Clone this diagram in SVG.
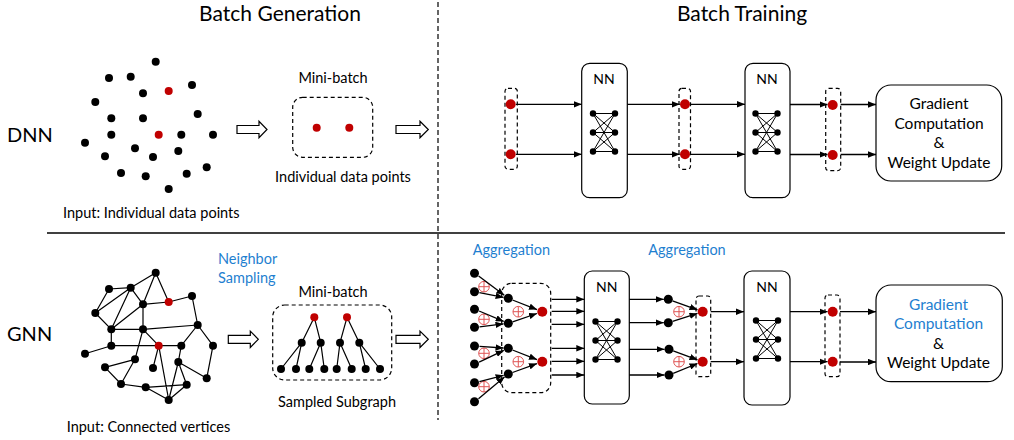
<svg xmlns="http://www.w3.org/2000/svg" width="1014" height="440" viewBox="0 0 1014 440">
<style>
text{font-family:Lato,"Liberation Sans",sans-serif;fill:#000}
.blue{fill:#1f7fd0}
.dash{fill:none;stroke:#000;stroke-width:1.2;stroke-dasharray:4 3}
.box{fill:#fff;stroke:#000;stroke-width:1.2}
.e{stroke:#000;stroke-width:1.2}
.ar{stroke:#000;stroke-width:1.3;marker-end:url(#ah)}
.k{fill:#000}
.r{fill:#c00000}
.hollow{fill:#fff;stroke:#000;stroke-width:1.2}
.div{stroke:#000;stroke-width:1.3}
.vdiv{stroke:#333;stroke-width:1.5;stroke-dasharray:5 3}
</style>
<defs>
<marker id="ah" viewBox="0 0 10 8" refX="10" refY="4" markerWidth="8" markerHeight="6.5" markerUnits="userSpaceOnUse" orient="auto"><path d="M0,0 L10,4 L0,8 z" fill="#000"/></marker>
<g id="oplus"><circle r="5.3" fill="none" stroke="#e05555" stroke-width="1"/><path d="M-5.3,0 H5.3 M0,-5.3 V5.3" stroke="#e05555" stroke-width="1"/></g>
<g id="net">
<path d="M0,0 L22,0 M0,0 L22,19 M0,0 L22,38 M0,19 L22,0 M0,19 L22,19 M0,19 L22,38 M0,38 L22,0 M0,38 L22,19 M0,38 L22,38" stroke="#000" stroke-width="1"/>
<circle cx="0" cy="0" r="3.2"/><circle cx="0" cy="19" r="3.2"/><circle cx="0" cy="38" r="3.2"/>
<circle cx="22" cy="0" r="3.2"/><circle cx="22" cy="19" r="3.2"/><circle cx="22" cy="38" r="3.2"/>
</g>
</defs>

<!-- titles and dividers -->
<g id="titles">
<text x="280" y="21" font-size="21" text-anchor="middle">Batch Generation</text>
<text x="742" y="21" font-size="21" text-anchor="middle">Batch Training</text>
<text x="7" y="142.3" font-size="20">DNN</text>
<text x="7" y="340.7" font-size="20">GNN</text>
</g>
<g id="dividers">
<line x1="47" y1="233" x2="1005" y2="233" class="div"/>
<line x1="438" y1="2" x2="438" y2="420" class="vdiv"/>
</g>

<!-- DNN input scatter -->
<g id="dnn-input">
<g transform="translate(0,-211)" class="k">
<circle cx="155.7" cy="272.7" r="4"/><circle cx="109" cy="289" r="4"/><circle cx="130.7" cy="287.7" r="4"/>
<circle cx="168.7" cy="302" r="4" class="r"/><circle cx="192" cy="296" r="4"/><circle cx="143" cy="304.3" r="4"/>
<circle cx="95.3" cy="313" r="4"/><circle cx="111.3" cy="329.3" r="4"/><circle cx="143" cy="329.3" r="4"/>
<circle cx="197.7" cy="325" r="4"/><circle cx="111.3" cy="345.7" r="4"/><circle cx="158.7" cy="345.7" r="4" class="r"/>
<circle cx="181.3" cy="345.7" r="4"/><circle cx="213" cy="345.7" r="4"/><circle cx="85" cy="353.7" r="4"/>
<circle cx="135" cy="359.3" r="4"/><circle cx="178.3" cy="362" r="4"/><circle cx="105" cy="367.3" r="4"/>
<circle cx="153" cy="368" r="4"/><circle cx="121" cy="384" r="4"/><circle cx="145.7" cy="387.3" r="4"/>
<circle cx="186.7" cy="384.7" r="4"/><circle cx="206.7" cy="378.3" r="4"/><circle cx="168.7" cy="400" r="4"/>
</g>
<text x="63" y="218" font-size="14.5">Input: Individual data points</text>
</g>

<g id="dnn-arrow1"><polygon class="hollow" points="237,125.5 259,125.5 259,121.3 267,129.5 259,137.7 259,133.5 237,133.5"/></g>

<g id="dnn-minibatch">
<text x="333" y="82.7" font-size="14.5" text-anchor="middle">Mini-batch</text>
<rect x="292.7" y="97.3" width="80" height="60" rx="10" class="dash"/>
<circle cx="316.7" cy="127.7" r="4" class="r"/><circle cx="349.3" cy="127.7" r="4" class="r"/>
<text x="343" y="181.7" font-size="14.5" text-anchor="middle">Individual data points</text>
</g>

<g id="dnn-arrow2"><polygon class="hollow" points="396,125.5 420,125.5 420,121.3 428.3,129.5 420,137.7 420,133.5 396,133.5"/></g>

<!-- DNN training -->
<g id="dnn-in">
<rect x="505" y="88.3" width="12.3" height="81" rx="3" class="dash"/>
<circle cx="510.7" cy="104.3" r="5" class="r"/><circle cx="510.7" cy="154.3" r="5" class="r"/>
</g>
<g id="dnn-nn1">
<rect x="581.7" y="63.3" width="45.6" height="134.4" rx="8" class="box"/>
<text x="604" y="84.3" font-size="14" text-anchor="middle">NN</text>
<use href="#net" transform="translate(593,113.5)"/>
</g>
<g id="dnn-mid">
<rect x="679" y="88.3" width="11.5" height="81" rx="3" class="dash"/>
<circle cx="685" cy="104.3" r="5" class="r"/><circle cx="685" cy="154.3" r="5" class="r"/>
</g>
<g id="dnn-nn2">
<rect x="745" y="63.3" width="45" height="134.4" rx="8" class="box"/>
<text x="767" y="84.3" font-size="14" text-anchor="middle">NN</text>
<use href="#net" transform="translate(755.5,113.5)"/>
</g>
<g id="dnn-out">
<rect x="825.7" y="88.3" width="15" height="82.4" rx="3" class="dash"/>
<circle cx="832.7" cy="105" r="5" class="r"/><circle cx="832.7" cy="155" r="5" class="r"/>
</g>
<g id="dnn-grad">
<rect x="876" y="85" width="125.7" height="96" rx="15" class="box"/>
<text x="939" y="109.3" font-size="15.5" text-anchor="middle">Gradient</text>
<text x="939" y="128.8" font-size="15.5" text-anchor="middle">Computation</text>
<text x="939" y="148.2" font-size="15.5" text-anchor="middle">&amp;</text>
<text x="939" y="167.5" font-size="15.5" text-anchor="middle">Weight Update</text>
</g>

<!-- GNN input graph -->
<g id="gnn-input">
<g class="e">
<path d="M155.7,272.7 L130.7,287.7 M155.7,272.7 L143,304.3 M155.7,272.7 L168.7,302 M109,289 L130.7,287.7 M109,289 L95.3,313 M130.7,287.7 L95.3,313 M130.7,287.7 L111.3,329.3 M130.7,287.7 L143,304.3 M143,304.3 L168.7,302 M143,304.3 L111.3,329.3 M143,304.3 L143,329.3 M168.7,302 L192,296 M192,296 L197.7,325 M95.3,313 L111.3,329.3 M111.3,329.3 L143,329.3 M111.3,329.3 L111.3,345.7 M143,329.3 L197.7,325 M143,329.3 L158.7,345.7 M143,329.3 L135,359.3 M111.3,345.7 L85,353.7 M111.3,345.7 L158.7,345.7 M158.7,345.7 L181.3,345.7 M158.7,345.7 L153,368 M158.7,345.7 L168.7,400 M181.3,345.7 L197.7,325 M181.3,345.7 L178.3,362 M197.7,325 L213,345.7 M213,345.7 L206.7,378.3 M178.3,362 L206.7,378.3 M178.3,362 L186.7,384.7 M178.3,362 L168.7,400 M135,359.3 L105,367.3 M135,359.3 L121,384 M105,367.3 L121,384 M121,384 L145.7,387.3 M145.7,387.3 L168.7,400 M168.7,400 L186.7,384.7 M145.7,387.3 L186.7,384.7" fill="none"/>
</g>
<g class="k">
<circle cx="155.7" cy="272.7" r="4"/><circle cx="109" cy="289" r="4"/><circle cx="130.7" cy="287.7" r="4"/>
<circle cx="168.7" cy="302" r="4" class="r"/><circle cx="192" cy="296" r="4"/><circle cx="143" cy="304.3" r="4"/>
<circle cx="95.3" cy="313" r="4"/><circle cx="111.3" cy="329.3" r="4"/><circle cx="143" cy="329.3" r="4"/>
<circle cx="197.7" cy="325" r="4"/><circle cx="111.3" cy="345.7" r="4"/><circle cx="158.7" cy="345.7" r="4" class="r"/>
<circle cx="181.3" cy="345.7" r="4"/><circle cx="213" cy="345.7" r="4"/><circle cx="85" cy="353.7" r="4"/>
<circle cx="135" cy="359.3" r="4"/><circle cx="178.3" cy="362" r="4"/><circle cx="105" cy="367.3" r="4"/>
<circle cx="153" cy="368" r="4"/><circle cx="121" cy="384" r="4"/><circle cx="145.7" cy="387.3" r="4"/>
<circle cx="186.7" cy="384.7" r="4"/><circle cx="206.7" cy="378.3" r="4"/><circle cx="168.7" cy="400" r="4"/>
</g>
<text x="66.7" y="431.7" font-size="14.5">Input: Connected vertices</text>
</g>

<g id="gnn-sampling-label">
<text x="218" y="264" font-size="14.5" class="blue">Neighbor</text>
<text x="218" y="283.3" font-size="14.5" class="blue">Sampling</text>
</g>

<g id="gnn-arrow1"><polygon class="hollow" points="228.3,335.3 250.3,335.3 250.3,331.1 258.3,339.3 250.3,347.5 250.3,343.3 228.3,343.3"/></g>

<g id="gnn-minibatch">
<text x="333" y="296.7" font-size="14.5" text-anchor="middle">Mini-batch</text>
<rect x="272.7" y="305" width="119" height="75" rx="12" class="dash"/>
<path class="e" fill="none" d="M314.3,317.3 L301.7,342.7 M314.3,317.3 L320.7,342.7 M347,317.3 L340,342.7 M347,317.3 L359.3,342.7 M301.7,342.7 L281,369 M301.7,342.7 L296,369 M320.7,342.7 L309.3,369 M320.7,342.7 L324.3,369 M340,342.7 L336.7,369 M340,342.7 L351.7,369 M359.3,342.7 L365.7,369 M359.3,342.7 L380,369"/>
<circle cx="314.3" cy="317.3" r="4" class="r"/><circle cx="347" cy="317.3" r="4" class="r"/>
<g class="k">
<circle cx="301.7" cy="342.7" r="4"/><circle cx="320.7" cy="342.7" r="4"/><circle cx="340" cy="342.7" r="4"/><circle cx="359.3" cy="342.7" r="4"/>
<circle cx="281" cy="369" r="4"/><circle cx="296" cy="369" r="4"/><circle cx="309.3" cy="369" r="4"/><circle cx="324.3" cy="369" r="4"/>
<circle cx="336.7" cy="369" r="4"/><circle cx="351.7" cy="369" r="4"/><circle cx="365.7" cy="369" r="4"/><circle cx="380" cy="369" r="4"/>
</g>
<text x="337" y="406.7" font-size="14.5" text-anchor="middle">Sampled Subgraph</text>
</g>

<g id="gnn-arrow2"><polygon class="hollow" points="396,335.3 420,335.3 420,331.1 428.3,339.3 420,347.5 420,343.3 396,343.3"/></g>

<!-- GNN training -->
<g id="gnn-agg1">
<text x="472.7" y="255" font-size="14.5" class="blue">Aggregation</text>
<g class="k">
<circle cx="474.5" cy="273.3" r="4.5"/><circle cx="474.5" cy="291.7" r="4.5"/><circle cx="474.5" cy="309.3" r="4.5"/><circle cx="474.5" cy="327.3" r="4.5"/>
<circle cx="474.5" cy="346" r="4.5"/><circle cx="474.5" cy="364" r="4.5"/><circle cx="474.5" cy="382.7" r="4.5"/><circle cx="474.5" cy="401.7" r="4.5"/>
</g>
<use href="#oplus" x="484" y="286.7"/><use href="#oplus" x="484" y="319.3"/><use href="#oplus" x="484" y="353.3"/><use href="#oplus" x="484" y="386.7"/>
<rect x="501.7" y="283.3" width="49" height="109.4" rx="10" class="dash"/>
<g class="k">
<circle cx="508.3" cy="298.3" r="4.5"/><circle cx="508.3" cy="323.3" r="4.5"/><circle cx="508.3" cy="348.3" r="4.5"/><circle cx="508.3" cy="374" r="4.5"/>
</g>
<use href="#oplus" x="518.3" y="311.7"/><use href="#oplus" x="518.3" y="361.7"/>
<circle cx="542.3" cy="311.7" r="5" class="r"/><circle cx="542.3" cy="361.7" r="5" class="r"/>
</g>
<g id="gnn-nn1">
<rect x="584.3" y="271" width="45" height="133" rx="8" class="box"/>
<text x="606.8" y="291.7" font-size="14" text-anchor="middle">NN</text>
<use href="#net" transform="translate(595.5,321.5)"/>
</g>
<g id="gnn-agg2">
<text x="648.3" y="255" font-size="14.5" class="blue">Aggregation</text>
<g class="k">
<circle cx="668.3" cy="299.3" r="4.5"/><circle cx="668.3" cy="322.7" r="4.5"/><circle cx="669" cy="349.3" r="4.5"/><circle cx="669" cy="375" r="4.5"/>
</g>
<use href="#oplus" x="679" y="311.7"/><use href="#oplus" x="679" y="361.7"/>
<rect x="696" y="296" width="14.7" height="80.7" rx="3" class="dash"/>
<circle cx="702.7" cy="311.7" r="5" class="r"/><circle cx="702.7" cy="361.7" r="5" class="r"/>
</g>
<g id="gnn-nn2">
<rect x="744" y="271" width="46" height="134" rx="8" class="box"/>
<text x="767" y="292.3" font-size="14" text-anchor="middle">NN</text>
<use href="#net" transform="translate(756,320.5)"/>
</g>
<g id="gnn-out">
<rect x="825" y="295" width="15" height="81.7" rx="3" class="dash"/>
<circle cx="832.7" cy="311.7" r="5" class="r"/><circle cx="832.7" cy="361.7" r="5" class="r"/>
</g>
<g id="gnn-grad">
<rect x="876" y="285" width="126.3" height="96.7" rx="15" class="box"/>
<text x="938.5" y="310" font-size="15.5" text-anchor="middle" class="blue">Gradient</text>
<text x="938.5" y="329.3" font-size="15.5" text-anchor="middle" class="blue">Computation</text>
<text x="938.5" y="348.5" font-size="15.5" text-anchor="middle">&amp;</text>
<text x="938.5" y="368" font-size="15.5" text-anchor="middle">Weight Update</text>
</g>

<!-- connectors -->
<g id="connectors" fill="none">
<line x1="516" y1="104.3" x2="581.7" y2="104.3" class="ar"/>
<line x1="516" y1="154.3" x2="581.7" y2="154.3" class="ar"/>
<line x1="627.3" y1="104.3" x2="679.8" y2="104.3" class="ar"/>
<line x1="627.3" y1="154.3" x2="679.8" y2="154.3" class="ar"/>
<line x1="690.5" y1="104.3" x2="745" y2="104.3" class="ar"/>
<line x1="690.5" y1="154.3" x2="745" y2="154.3" class="ar"/>
<line x1="790" y1="104.5" x2="827.5" y2="104.5" class="ar"/>
<line x1="790" y1="154.5" x2="827.5" y2="154.5" class="ar"/>
<line x1="840.7" y1="104.5" x2="876" y2="104.5" class="ar"/>
<line x1="840.7" y1="154.5" x2="876" y2="154.5" class="ar"/>

<line x1="478.6" y1="276" x2="504.3" y2="295.3" class="ar"/>
<line x1="479.4" y1="292.6" x2="503.6" y2="297.4" class="ar"/>
<line x1="479.1" y1="311" x2="503.7" y2="321.4" class="ar"/>
<line x1="479.5" y1="326.8" x2="503.5" y2="323.9" class="ar"/>
<line x1="479.5" y1="346.3" x2="503.5" y2="348" class="ar"/>
<line x1="479.1" y1="362.1" x2="503.8" y2="350.4" class="ar"/>
<line x1="479.4" y1="381.6" x2="503.6" y2="375.3" class="ar"/>
<line x1="478.5" y1="398.8" x2="504.5" y2="377" class="ar"/>
<line x1="512.5" y1="300" x2="537" y2="309.6" class="ar"/>
<line x1="512.6" y1="321.8" x2="537" y2="313.5" class="ar"/>
<line x1="512.5" y1="350" x2="537" y2="359.6" class="ar"/>
<line x1="512.5" y1="372.5" x2="537" y2="363.6" class="ar"/>

<line x1="551.7" y1="299.3" x2="584.3" y2="299.3" class="ar"/>
<line x1="551.7" y1="311.3" x2="584.3" y2="311.3" class="ar"/>
<line x1="551.7" y1="324.3" x2="584.3" y2="324.3" class="ar"/>
<line x1="551.7" y1="348.3" x2="584.3" y2="348.3" class="ar"/>
<line x1="551.7" y1="361.3" x2="584.3" y2="361.3" class="ar"/>
<line x1="551.7" y1="375" x2="584.3" y2="375" class="ar"/>

<line x1="629.3" y1="299.3" x2="663.8" y2="299.3" class="ar"/>
<line x1="629.3" y1="322.7" x2="663.8" y2="322.7" class="ar"/>
<line x1="629.3" y1="349.3" x2="664.5" y2="349.3" class="ar"/>
<line x1="629.3" y1="375" x2="664.5" y2="375" class="ar"/>
<line x1="672.5" y1="300.8" x2="697.5" y2="309.8" class="ar"/>
<line x1="672.6" y1="321.3" x2="697.5" y2="313.4" class="ar"/>
<line x1="673.2" y1="350.9" x2="697.5" y2="359.8" class="ar"/>
<line x1="673.2" y1="373.3" x2="697.5" y2="363.5" class="ar"/>

<line x1="710.7" y1="311.7" x2="744" y2="311.7" class="ar"/>
<line x1="710.7" y1="361.7" x2="744" y2="361.7" class="ar"/>
<line x1="790" y1="311.7" x2="827.5" y2="311.7" class="ar"/>
<line x1="790" y1="361.7" x2="827.5" y2="361.7" class="ar"/>
<line x1="840" y1="311.7" x2="876" y2="311.7" class="ar"/>
<line x1="840" y1="362" x2="876" y2="362" class="ar"/>
</g>
</svg>
